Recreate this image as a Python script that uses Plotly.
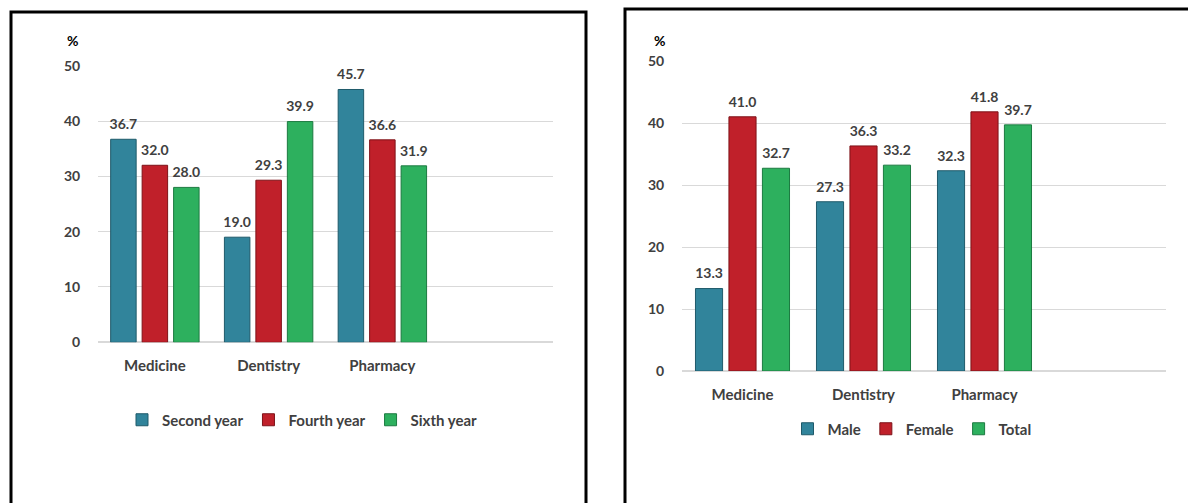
import plotly.graph_objects as go

# ---------------- data ----------------
categories = ["Medicine", "Dentistry", "Pharmacy"]

year_names = ["Second year", "Fourth year", "Sixth year"]
second_year = [36.7, 19.0, 45.7]
fourth_year = [32.0, 29.3, 36.6]
sixth_year = [28.0, 39.9, 31.9]

sex_names = ["Male", "Female", "Total"]
male = [13.3, 27.3, 32.3]
female = [41.0, 36.3, 41.8]
total = [32.7, 33.2, 39.7]

y_ticks = [0, 10, 20, 30, 40, 50]

# ---------------- style ----------------
W, H = 1188, 503
colors = ["#31849B", "#C0202A", "#2DB05E"]
edge = ["#1F5A6A", "#7E1218", "#1C7A40"]
FONT = "Lato"
TXT = "#404040"

fig = go.Figure()

panels = [
    ("x", "y", "legend", "l", year_names, [second_year, fourth_year, sixth_year]),
    ("x2", "y2", "legend2", "r", sex_names, [male, female, total]),
]

for xa, ya, leg, tag, names, series in panels:
    for i, (name, vals) in enumerate(zip(names, series)):
        fig.add_trace(go.Bar(
            x=categories, y=vals, name=name, xaxis=xa, yaxis=ya,
            marker=dict(color=colors[i], line=dict(color=edge[i], width=1)),
            offsetgroup=f"{tag}{i}", alignmentgroup=tag,
            legend=leg, hoverinfo="skip"))
    for i, (name, vals) in enumerate(zip(names, series)):
        fig.add_trace(go.Scatter(
            x=categories, y=vals, mode="markers+text", xaxis=xa, yaxis=ya,
            text=[f"{v:.1f}" for v in vals], textposition="top center",
            textfont=dict(family=FONT, size=14, color=TXT, weight="bold"),
            marker=dict(size=9, opacity=0), offsetgroup=f"{tag}{i}",
            alignmentgroup=tag, orientation="v", showlegend=False,
            hoverinfo="skip", cliponaxis=False))

tickfont = dict(family=FONT, size=14, color=TXT, weight="bold")
catfont = dict(family=FONT, size=15, color=TXT, weight="bold")

xax = dict(range=[-0.5, 3.5], showgrid=False, showline=False, zeroline=False,
           ticks="outside", ticklen=10, tickcolor="rgba(0,0,0,0)",
           tickfont=catfont, fixedrange=True, automargin=False)
yax = dict(range=[0, 50], tickvals=y_ticks, showgrid=True, gridcolor="#D9D9D9",
           gridwidth=1, zeroline=True, zerolinecolor="#D9D9D9", showline=False,
           ticks="outside", ticklen=14, tickcolor="rgba(0,0,0,0)",
           tickfont=tickfont, fixedrange=True, automargin=False)

fig.update_layout(
    width=W, height=H,
    margin=dict(l=0, r=0, t=0, b=0, pad=0, autoexpand=False),
    paper_bgcolor="white", plot_bgcolor="white",
    barmode="group", bargap=0.17, bargroupgap=0.19,
    scattermode="group", scattergap=0.17,
    xaxis=dict(xax, domain=[98 / W, 553 / W], anchor="y"),
    yaxis=dict(yax, domain=[1 - 342.3 / H, 1 - 65.7 / H], anchor="x"),
    xaxis2=dict(xax, domain=[682 / W, 1166 / W], anchor="y2"),
    yaxis2=dict(yax, domain=[1 - 371 / H, 1 - 61 / H], anchor="x2"),
    legend=dict(orientation="h", x=302 / W, xanchor="center", y=1 - 420 / H,
                yanchor="middle", font=dict(family=FONT, size=15, color=TXT, weight="bold"),
                bgcolor="rgba(0,0,0,0)"),
    legend2=dict(orientation="h", x=912 / W, xanchor="center", y=1 - 429 / H,
                 yanchor="middle", font=dict(family=FONT, size=15, color=TXT, weight="bold"),
                 bgcolor="rgba(0,0,0,0)"),
    showlegend=True,
)

fig.add_annotation(text="%", xref="paper", yref="paper", x=72 / W, y=1 - 40 / H,
                   xanchor="center", yanchor="middle", showarrow=False,
                   font=dict(family=FONT, size=14, color="#000000", weight="bold"))
fig.add_annotation(text="%", xref="paper", yref="paper", x=659 / W, y=1 - 40 / H,
                   xanchor="center", yanchor="middle", showarrow=False,
                   font=dict(family=FONT, size=14, color="#000000", weight="bold"))

# panel borders
fig.add_shape(type="rect", xref="paper", yref="paper",
              x0=11 / W, x1=586 / W, y0=-0.1, y1=1 - 12 / H,
              line=dict(color="black", width=3), fillcolor="rgba(0,0,0,0)", layer="below")
fig.add_shape(type="rect", xref="paper", yref="paper",
              x0=625 / W, x1=1.1, y0=-0.1, y1=1 - 9 / H,
              line=dict(color="black", width=3), fillcolor="rgba(0,0,0,0)", layer="below")

fig.write_html("out.html")
